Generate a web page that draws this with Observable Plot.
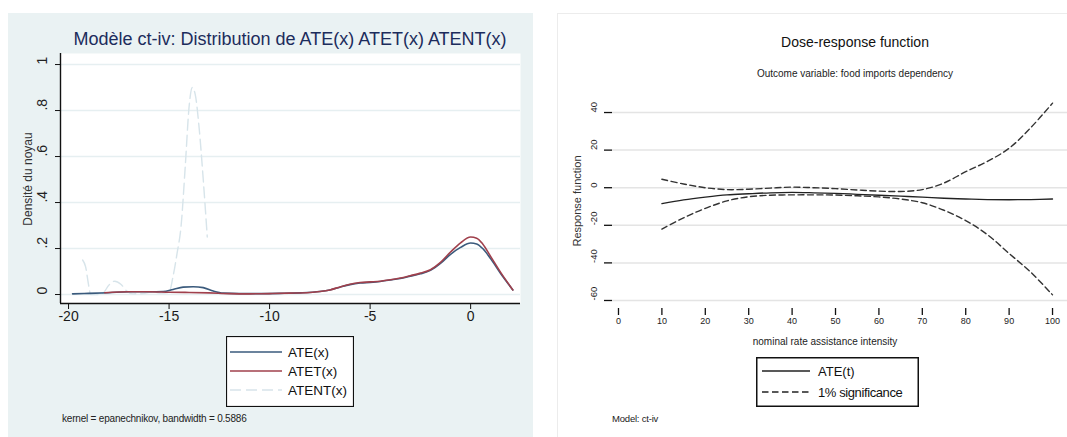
<!DOCTYPE html>
<html><head><meta charset="utf-8">
<script src="https://cdn.jsdelivr.net/npm/d3@7"></script>
<script src="https://cdn.jsdelivr.net/npm/@observablehq/plot@0.6"></script>
<style>
html,body{margin:0;padding:0;background:#fff;}
#root{position:relative;width:1067px;height:437px;overflow:hidden;font-family:"Liberation Sans",Arial,sans-serif;}
</style></head><body><div id="root"></div>
<script>
// ---------- Left panel data: kernel densities ----------
const ateX  = [-19.8,-19,-18,-17,-16,-15.3,-14.8,-14.3,-13.8,-13.3,-12.8,-12.3,-11.5,-10.5,-9.5,-8.5,-7.5,-7,-6.5,-6,-5.5,-5,-4.5,-4,-3.5,-3,-2.5,-2,-1.5,-1,-0.5,0,0.3,0.6,1,1.5,2.1];
const ateY  = [0.003,0.005,0.008,0.012,0.012,0.013,0.022,0.032,0.034,0.03,0.015,0.006,0.004,0.004,0.005,0.007,0.013,0.02,0.032,0.043,0.05,0.053,0.057,0.063,0.07,0.08,0.09,0.105,0.135,0.175,0.205,0.224,0.22,0.2,0.155,0.09,0.02];
const atetX = [-18.2,-17,-16,-15,-14,-13,-12,-11,-10,-9,-8,-7.5,-7,-6.5,-6,-5.5,-5,-4.5,-4,-3.5,-3,-2.5,-2,-1.5,-1,-0.5,0,0.3,0.6,1,1.5,2.1];
const atetY = [0.008,0.012,0.012,0.01,0.009,0.007,0.004,0.003,0.004,0.006,0.009,0.013,0.02,0.033,0.045,0.052,0.055,0.058,0.064,0.072,0.082,0.093,0.108,0.14,0.185,0.225,0.25,0.245,0.22,0.165,0.095,0.02];
const atentX = [-19.3,-19.15,-19.0,-18.9,-18.6,-18.3,-18.0,-17.7,-17.4,-17.1,-16.8,-16.3,-15.8,-15.4,-15.0,-14.8,-14.6,-14.4,-14.2,-14.0,-13.85,-13.7,-13.5,-13.3,-13.1];
const atentY = [0.15,0.12,0.04,0.0,0.0,0.005,0.04,0.058,0.045,0.015,0.003,0.004,0.012,0.006,0.01,0.08,0.18,0.3,0.55,0.82,0.9,0.87,0.72,0.5,0.25];
const leftXTicks = [-20,-15,-10,-5,0];
const leftYTicks = [0,0.2,0.4,0.6,0.8,1];
const leftYLabels = ["0",".2",".4",".6",".8","1"];
const leftSeries = ["ATE(x)","ATET(x)","ATENT(x)"];

// ---------- Right panel data: dose-response ----------
const drX     = [10,15,20,25,30,35,40,45,50,55,60,65,70,75,80,85,90,95,100];
const drATE   = [-8.5,-6.5,-5,-3.8,-3.2,-2.7,-2.5,-2.7,-3,-3.5,-4,-4.5,-5,-5.6,-6,-6.3,-6.4,-6.3,-6];
const drUpper = [4.5,2,0,-1,-0.8,-0.2,0.3,0,-0.5,-1.2,-1.8,-2,-1,2.5,8.5,14,21,32,45];
const drLower = [-22,-16,-11,-7,-4.8,-4,-3.8,-3.8,-3.9,-4.3,-4.9,-6,-8,-12,-17.5,-25,-35,-45,-57];
const rightXTicks = [0,10,20,30,40,50,60,70,80,90,100];
const rightYTicks = [-60,-40,-20,0,20,40];
const rightSeries = ["ATE(t)","1% significance"];

const FONT = '"Liberation Sans", Arial, sans-serif';
const root = document.getElementById("root");

function box(x, y, w, h, css) {
  const d = document.createElement("div");
  d.style.cssText = `position:absolute;left:${x}px;top:${y}px;width:${w}px;height:${h}px;box-sizing:border-box;${css}`;
  root.appendChild(d);
  return d;
}
function txt(s, x, y, o = {}) {
  const {size = 12, color = "#222", anchor = "middle", rotate = 0, weight = "normal", ls = 0} = o;
  const d = document.createElement("div");
  d.textContent = s;
  const tx = anchor === "start" ? 0 : anchor === "end" ? -100 : -50;
  d.style.cssText = `position:absolute;left:${x}px;top:${y}px;font-size:${size}px;color:${color};white-space:nowrap;line-height:1;font-weight:${weight};letter-spacing:${ls}px;font-family:${FONT};transform:translate(${tx}%,-50%)${rotate ? ` rotate(${rotate}deg)` : ""};`;
  root.appendChild(d);
  return d;
}
function place(el, x, y) {
  el.style.position = "absolute";
  el.style.left = x + "px";
  el.style.top = y + "px";
  root.appendChild(el);
}

// panel backgrounds
box(8, 13, 525, 430, "background:#eaf2f3;");
box(557, 13, 520, 430, "background:#fff;border:1px solid #ececec;");

// ---------- Left plot ----------
const pts = (xs, ys, s) => xs.map((x, i) => ({x, y: ys[i], s}));
const Lx0 = -20.4, Lx1 = 2.48, Ly0 = -0.039, Ly1 = 1.048;
const leftPlot = Plot.plot({
  width: 525, height: 320,
  marginLeft: 52, marginTop: 40, marginRight: 13, marginBottom: 30,
  x: {domain: [Lx0, Lx1], label: null},
  y: {domain: [Ly0, Ly1], label: null},
  style: {background: "transparent", fontFamily: FONT, color: "#1a1a1a", overflow: "visible"},
  marks: [
    Plot.frame({fill: "white", stroke: "none"}),
    Plot.gridY(leftYTicks, {stroke: "#e6eff1", strokeOpacity: 1, strokeWidth: 1.5}),
    Plot.line(pts(atentX, atentY, leftSeries[2]), {x: "x", y: "y", stroke: "#d7e4ea", strokeWidth: 1.4, strokeDasharray: "11 5", curve: "monotone-x"}),
    Plot.line(pts(ateX, ateY, leftSeries[0]), {x: "x", y: "y", stroke: "#3a5a7c", strokeWidth: 1.6, curve: "monotone-x"}),
    Plot.line(pts(atetX, atetY, leftSeries[1]), {x: "x", y: "y", stroke: "#a0404c", strokeWidth: 1.6, curve: "monotone-x"}),
    Plot.axisX({ticks: leftXTicks, tickFormat: d => String(d), tickSize: 6, tickPadding: 2, fontSize: 14, stroke: "#111", label: null}),
    Plot.axisY({ticks: leftYTicks, tickFormat: () => "", tickSize: 5, stroke: "#111", label: null}),
    Plot.text(leftYTicks.map((v, i) => ({v, t: leftYLabels[i]})), {y: "v", text: "t", frameAnchor: "left", dx: -18, rotate: -90, fontSize: 14, fill: "#222"}),
    Plot.ruleX([Lx0], {stroke: "#111", strokeWidth: 1.4}),
    Plot.ruleY([Ly0], {stroke: "#111", strokeWidth: 1.4})
  ]
});
place(leftPlot, 8, 13);

txt("Modèle ct-iv: Distribution de ATE(x) ATET(x) ATENT(x)", 290, 39, {size: 18, color: "#1c2c5c"});
txt("Densité du noyau", 28, 179, {size: 12, color: "#333", rotate: -90});
txt("kernel = epanechnikov, bandwidth = 0.5886", 62, 419, {size: 10, color: "#222", anchor: "start", ls: -0.2});

// left legend
(function () {
  const ns = "http://www.w3.org/2000/svg";
  const svg = document.createElementNS(ns, "svg");
  svg.setAttribute("width", 128); svg.setAttribute("height", 71);
  const styles = [
    {stroke: "#3a5a7c", dash: null},
    {stroke: "#a0404c", dash: null},
    {stroke: "#d7e4ea", dash: "11 5"}
  ];
  const r = document.createElementNS(ns, "rect");
  r.setAttribute("x", 0.5); r.setAttribute("y", 0.5); r.setAttribute("width", 127); r.setAttribute("height", 70);
  r.setAttribute("fill", "white"); r.setAttribute("stroke", "#111"); r.setAttribute("stroke-width", 1.2);
  svg.appendChild(r);
  leftSeries.forEach((s, i) => {
    const y = 16 + i * 19;
    const l = document.createElementNS(ns, "line");
    l.setAttribute("x1", 4); l.setAttribute("x2", 56); l.setAttribute("y1", y); l.setAttribute("y2", y);
    l.setAttribute("stroke", styles[i].stroke); l.setAttribute("stroke-width", 1.6);
    if (styles[i].dash) l.setAttribute("stroke-dasharray", styles[i].dash);
    svg.appendChild(l);
    const t = document.createElementNS(ns, "text");
    t.setAttribute("x", 62); t.setAttribute("y", y); t.setAttribute("dy", "0.36em");
    t.setAttribute("font-size", 13.5); t.setAttribute("font-family", FONT); t.setAttribute("fill", "#111");
    t.textContent = s;
    svg.appendChild(t);
  });
  place(svg, 226, 336);
})();

// ---------- Right plot ----------
const Rx0 = -1.38, Rx1 = 103.45, Ry0 = -64.26, Ry1 = 46.4;
const rightPlot = Plot.plot({
  width: 510, height: 320,
  marginLeft: 55, marginTop: 87, marginRight: 0, marginBottom: 25,
  x: {domain: [Rx0, Rx1], label: null},
  y: {domain: [Ry0, Ry1], label: null},
  style: {background: "transparent", fontFamily: FONT, color: "#222", overflow: "visible"},
  marks: [
    Plot.gridY(rightYTicks, {stroke: "#e4e4e4", strokeOpacity: 1, strokeWidth: 1.5}),
    Plot.line(pts(drX, drUpper, "1% significance"), {x: "x", y: "y", stroke: "#333", strokeWidth: 1.4, strokeDasharray: "6 3.5", curve: "catmull-rom"}),
    Plot.line(pts(drX, drLower, "1% significance"), {x: "x", y: "y", stroke: "#333", strokeWidth: 1.4, strokeDasharray: "6 3.5", curve: "catmull-rom"}),
    Plot.line(pts(drX, drATE, "ATE(t)"), {x: "x", y: "y", stroke: "#222", strokeWidth: 1.3, curve: "catmull-rom"}),
    Plot.axisX({ticks: rightXTicks, tickFormat: d => String(d), tickSize: 7, tickPadding: 2, fontSize: 9, stroke: "#111", strokeWidth: 1.3, label: null}),
    Plot.axisY({ticks: rightYTicks, tickFormat: () => "", tickSize: 8, tickPadding: 0, stroke: "#111", strokeWidth: 1.3, label: null}),
    Plot.text(rightYTicks, {y: d => d, text: d => String(d), frameAnchor: "left", dx: -19, rotate: -90, fontSize: 9.5, fill: "#222"})
  ]
});
place(rightPlot, 557, 13);

txt("Dose-response function", 855, 42, {size: 14, color: "#111"});
txt("Outcome variable: food imports dependency", 855, 74, {size: 10, color: "#222"});
txt("Response function", 577, 201, {size: 11, color: "#333", rotate: -90});
txt("nominal rate assistance intensity", 825, 342, {size: 10, color: "#222"});
txt("Model: ct-iv", 612, 419, {size: 9.5, color: "#222", anchor: "start", ls: -0.2});

// right legend
(function () {
  const ns = "http://www.w3.org/2000/svg";
  const svg = document.createElementNS(ns, "svg");
  svg.setAttribute("width", 163); svg.setAttribute("height", 50);
  const r = document.createElementNS(ns, "rect");
  r.setAttribute("x", 0.75); r.setAttribute("y", 0.75); r.setAttribute("width", 161.5); r.setAttribute("height", 48.5);
  r.setAttribute("fill", "white"); r.setAttribute("stroke", "#111"); r.setAttribute("stroke-width", 1.5);
  svg.appendChild(r);
  const dashes = [null, "6.5 3.5"];
  rightSeries.forEach((s, i) => {
    const y = 14 + i * 21;
    const l = document.createElementNS(ns, "line");
    l.setAttribute("x1", 6); l.setAttribute("x2", 54); l.setAttribute("y1", y); l.setAttribute("y2", y);
    l.setAttribute("stroke", "#222"); l.setAttribute("stroke-width", 1.4);
    if (dashes[i]) l.setAttribute("stroke-dasharray", dashes[i]);
    svg.appendChild(l);
    const t = document.createElementNS(ns, "text");
    t.setAttribute("x", 62); t.setAttribute("y", y); t.setAttribute("dy", "0.36em");
    t.setAttribute("font-size", 13); t.setAttribute("font-family", FONT); t.setAttribute("fill", "#111");
    t.setAttribute("letter-spacing", i === 1 ? "-0.4" : "0");
    t.textContent = s;
    svg.appendChild(t);
  });
  place(svg, 756, 357);
})();
</script>
</body></html>
